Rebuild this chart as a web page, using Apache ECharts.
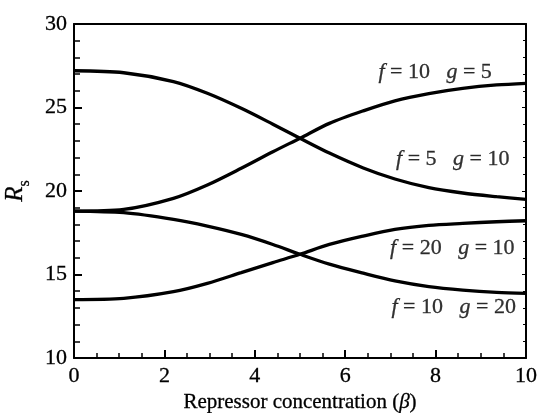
<!DOCTYPE html>
<html>
<head>
<meta charset="utf-8">
<script src="https://cdn.jsdelivr.net/npm/echarts@6/dist/echarts.min.js"></script>
<style>
html,body{margin:0;padding:0;background:#fff;}
#c{width:540px;height:413px;}
</style>
</head>
<body>
<div id="c"></div>
<script>
// Repressor concentration (beta) sample points
const beta = [0, 1.1, 2.2, 2.95, 3.7, 4.4, 5, 5.65, 6.4, 7.1, 7.85, 8.6, 9.35, 10];
// Rs values for each (f, g) pair
const f5g10  = [27.2, 27.08, 26.55, 25.85, 24.95, 24.0, 23.16, 22.27, 21.38, 20.72, 20.2, 19.88, 19.66, 19.5];
const f10g5  = [18.8, 18.9, 19.56, 20.36, 21.36, 22.35, 23.16, 24.05, 24.8, 25.4, 25.83, 26.14, 26.35, 26.45];
const f10g20 = [18.8, 18.7, 18.3, 17.9, 17.4, 16.8, 16.21, 15.62, 15.08, 14.62, 14.28, 14.07, 13.93, 13.87];
const f20g10 = [13.5, 13.57, 13.97, 14.47, 15.11, 15.71, 16.21, 16.8, 17.3, 17.7, 17.94, 18.06, 18.16, 18.22];
// Curve annotations
const labelF = ['10', '5', '20', '10'];
const labelG = ['5', '10', '10', '20'];
const labelX = [7.99, 8.38, 8.37, 8.40];
const labelY = [27.13, 21.92, 16.59, 13.07];

const FONT = '"Liberation Serif", "DejaVu Serif", serif';
const HEAVY = { textBorderColor: '#000', textBorderWidth: 0.3 };
const pair = (xs, ys) => xs.map((x, i) => [x, ys[i]]);
const curve = (name, ys) => ({
  name, type: 'line', data: pair(beta, ys), smooth: 0.3, symbol: 'none',
  lineStyle: { color: '#000', width: 3.3 }, xAxisIndex: 0, yAxisIndex: 0
});

const chart = echarts.init(document.getElementById('c'));
const axisLine = { show: true, onZero: false, lineStyle: { color: '#000', width: 2 } };
chart.setOption({
  animation: false,
  backgroundColor: '#fff',
  grid: { left: 74, right: 14, top: 24, bottom: 55, containLabel: false, outerBoundsMode: 'none' },
  xAxis: [{
    type: 'value', min: 0, max: 10, interval: 2, position: 'bottom',
    axisLine,
    axisTick: { inside: true, length: 8, lineStyle: { color: '#000', width: 2 } },
    minorTick: { show: true, splitNumber: 4, length: 5, lineStyle: { color: '#000', width: 1.5 } },
    splitLine: { show: false },
    axisLabel: Object.assign({ color: '#000', fontFamily: FONT, fontSize: 22, margin: 7 }, HEAVY),
    name: 'Repressor concentration ({b|β})', nameLocation: 'middle', nameGap: 32,
    nameTextStyle: Object.assign({
      color: '#000', fontFamily: FONT, fontSize: 21,
      rich: { b: Object.assign({ fontFamily: FONT, fontSize: 21, fontStyle: 'italic', color: '#000' }, HEAVY) }
    }, HEAVY)
  }, {
    type: 'value', min: 0, max: 10, interval: 2, position: 'top',
    axisLine, axisTick: { show: false }, axisLabel: { show: false }, splitLine: { show: false }
  }],
  yAxis: [{
    type: 'value', min: 10, max: 30, interval: 5, position: 'left',
    axisLine,
    axisTick: { inside: true, length: 8, lineStyle: { color: '#000', width: 2 } },
    minorTick: { show: true, splitNumber: 5, length: 6, lineStyle: { color: '#000', width: 1.5 } },
    splitLine: { show: false },
    axisLabel: Object.assign({ color: '#000', fontFamily: FONT, fontSize: 22, margin: 7 }, HEAVY),
    name: '{r|R}{s|s}', nameLocation: 'middle', nameGap: 46, nameRotate: 90,
    nameTextStyle: {
      color: '#000', fontFamily: FONT,
      rich: {
        r: Object.assign({ fontFamily: FONT, fontSize: 25, fontStyle: 'italic', color: '#000', verticalAlign: 'bottom' }, HEAVY),
        s: Object.assign({ fontFamily: FONT, fontSize: 16, color: '#000', verticalAlign: 'bottom', padding: [0, 0, -5, 0] }, HEAVY)
      }
    }
  }, {
    type: 'value', min: 10, max: 30, interval: 5, position: 'right',
    axisLine,
    axisTick: { inside: true, length: 4, lineStyle: { color: '#000', width: 1 } },
    minorTick: { show: true, splitNumber: 5, length: 3, lineStyle: { color: '#000', width: 1 } },
    axisLabel: { show: false }, splitLine: { show: false }
  }],
  series: [
    curve('f=5 g=10', f5g10),
    curve('f=10 g=5', f10g5),
    curve('f=10 g=20', f10g20),
    curve('f=20 g=10', f20g10),
    {
      type: 'scatter', symbolSize: 0, xAxisIndex: 0, yAxisIndex: 0,
      data: labelX.map((x, i) => [x, labelY[i], i]),
      label: {
        show: true, position: 'inside',
        formatter: p => '{i|f}{n| = ' + labelF[p.data[2]] + '   }{i|g}{n| = ' + labelG[p.data[2]] + '}',
        rich: {
          i: Object.assign({ fontFamily: FONT, fontSize: 22, fontStyle: 'italic', color: '#000' }, HEAVY),
          n: Object.assign({ fontFamily: FONT, fontSize: 22, color: '#000' }, HEAVY)
        }
      }
    }
  ]
});
</script>
</body>
</html>
